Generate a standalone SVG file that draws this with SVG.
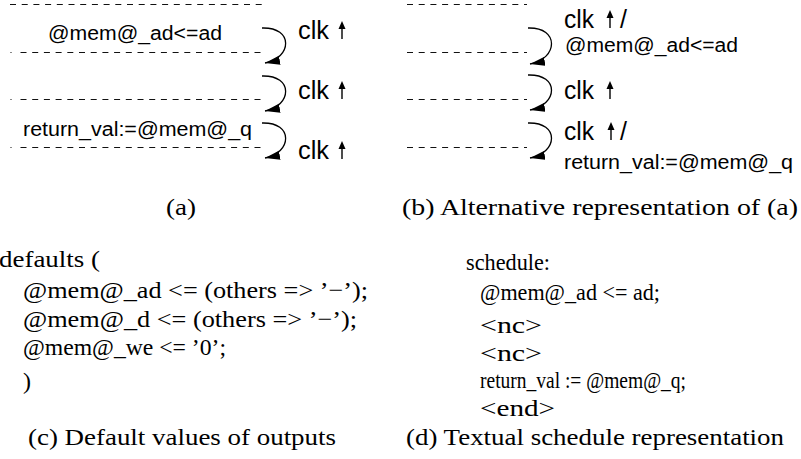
<svg xmlns="http://www.w3.org/2000/svg" width="801" height="459" viewBox="0 0 801 459">
<style>
.dash{stroke:#111;stroke-width:1.1;fill:none;stroke-dasharray:6 5.7}
.dot{stroke:#111;stroke-width:1.1;fill:none}
.arc{stroke:#000;stroke-width:1.3;fill:none;marker-end:url(#ah)}
.up{stroke:#000;stroke-width:1.4;fill:none}
.uph{fill:#000}
.sans{font-family:"Liberation Sans",Arial,sans-serif;fill:#000}
.lbl{font-size:20px}
.clk{font-size:25px}
.ser{font-family:"Liberation Serif","Times New Roman",serif;font-size:24px;fill:#000}
.sm{font-size:23px}
</style>
<defs>
<marker id="ah" markerUnits="userSpaceOnUse" markerWidth="16" markerHeight="10" refX="15" refY="4.5" orient="auto">
<path d="M0,0 L15,4.5 L0,9 z" fill="#000"/>
</marker>
<g id="uparrow"><path class="up" d="M0,18 V5"/><path class="uph" d="M0,0 L3.5,8 L-3.5,8 z"/></g>
</defs>

<g id="connectors">
<line class="dash" x1="10" y1="4.5" x2="262" y2="4.5"/>
<line class="dot" x1="10.5" y1="52.5" x2="11.5" y2="52.5"/>
<line class="dash" x1="20.5" y1="52.5" x2="262" y2="52.5"/>
<line class="dot" x1="10.5" y1="99.5" x2="11.5" y2="99.5"/>
<line class="dash" x1="20.5" y1="99.5" x2="262" y2="99.5"/>
<line class="dot" x1="10.5" y1="147.5" x2="11.5" y2="147.5"/>
<line class="dash" x1="20.5" y1="147.5" x2="262" y2="147.5"/>
<path class="arc" d="M262,28 C294,27 292,58 265,63"/>
<path class="arc" d="M262,76 C294,75 292,106 265,111"/>
<path class="arc" d="M262,123 C294,122 292,153 265,158"/>
<line class="dash" x1="407" y1="4.5" x2="527" y2="4.5"/>
<line class="dash" x1="407" y1="52.5" x2="527" y2="52.5"/>
<line class="dash" x1="407" y1="99.5" x2="527" y2="99.5"/>
<line class="dash" x1="407" y1="147.5" x2="527" y2="147.5"/>
<path class="arc" d="M528,28 C560,27 558,59 530,64"/>
<path class="arc" d="M528,75 C560,74 558,105 530,110"/>
<path class="arc" d="M528,123 C560,122 558,153 530,158"/>
</g>

<g id="panel-a">
<text class="sans lbl" x="48" y="40" textLength="174" lengthAdjust="spacingAndGlyphs">@mem@_ad&lt;=ad</text>
<text class="sans lbl" x="23" y="136" textLength="229" lengthAdjust="spacingAndGlyphs">return_val:=@mem@_q</text>
<text class="sans clk" x="298" y="39" textLength="31" lengthAdjust="spacingAndGlyphs">clk</text>
<use href="#uparrow" x="342" y="21"/>
<text class="sans clk" x="298" y="99" textLength="31" lengthAdjust="spacingAndGlyphs">clk</text>
<use href="#uparrow" x="342" y="81"/>
<text class="sans clk" x="298" y="159" textLength="31" lengthAdjust="spacingAndGlyphs">clk</text>
<use href="#uparrow" x="342" y="141"/>
<text class="ser" x="166" y="215" textLength="30" lengthAdjust="spacingAndGlyphs">(a)</text>
</g>

<g id="panel-b">
<text class="sans clk" x="564" y="28" textLength="30" lengthAdjust="spacingAndGlyphs">clk</text>
<use href="#uparrow" x="610" y="10"/>
<text class="sans clk" x="620" y="28">/</text>
<text class="sans lbl" x="565" y="52" textLength="173" lengthAdjust="spacingAndGlyphs">@mem@_ad&lt;=ad</text>
<text class="sans clk" x="564" y="99" textLength="30" lengthAdjust="spacingAndGlyphs">clk</text>
<use href="#uparrow" x="610" y="81"/>
<text class="sans clk" x="564" y="140" textLength="30" lengthAdjust="spacingAndGlyphs">clk</text>
<use href="#uparrow" x="611" y="122"/>
<text class="sans clk" x="620" y="140">/</text>
<text class="sans lbl" x="564" y="169" textLength="229" lengthAdjust="spacingAndGlyphs">return_val:=@mem@_q</text>
<text class="ser" x="402" y="215" textLength="396" lengthAdjust="spacingAndGlyphs">(b) Alternative representation of (a)</text>
</g>

<g id="panel-c">
<text class="ser" x="-1" y="267" textLength="101" lengthAdjust="spacingAndGlyphs">defaults  (</text>
<text class="ser" x="23" y="298" textLength="345" lengthAdjust="spacingAndGlyphs">@mem@_ad &lt;= (others =&gt; ’−’);</text>
<text class="ser" x="23" y="327" textLength="334" lengthAdjust="spacingAndGlyphs">@mem@_d &lt;= (others =&gt; ’−’);</text>
<text class="ser" x="23" y="355" textLength="203" lengthAdjust="spacingAndGlyphs">@mem@_we &lt;= ’0’;</text>
<text class="ser" x="23" y="389">)</text>
<text class="ser" x="28" y="445" textLength="308" lengthAdjust="spacingAndGlyphs">(c) Default values of outputs</text>
</g>

<g id="panel-d">
<text class="ser sm" x="466" y="270" textLength="84" lengthAdjust="spacingAndGlyphs">schedule:</text>
<text class="ser sm" x="480" y="300" textLength="180" lengthAdjust="spacingAndGlyphs">@mem@_ad &lt;= ad;</text>
<text class="ser sm" x="480" y="333" textLength="62" lengthAdjust="spacingAndGlyphs">&lt;nc&gt;</text>
<text class="ser sm" x="480" y="361" textLength="62" lengthAdjust="spacingAndGlyphs">&lt;nc&gt;</text>
<text class="ser sm" x="480" y="388" textLength="206" lengthAdjust="spacingAndGlyphs">return_val := @mem@_q;</text>
<text class="ser sm" x="480" y="416" textLength="75" lengthAdjust="spacingAndGlyphs">&lt;end&gt;</text>
<text class="ser" x="406" y="445" textLength="378" lengthAdjust="spacingAndGlyphs">(d) Textual schedule representation</text>
</g>
</svg>
